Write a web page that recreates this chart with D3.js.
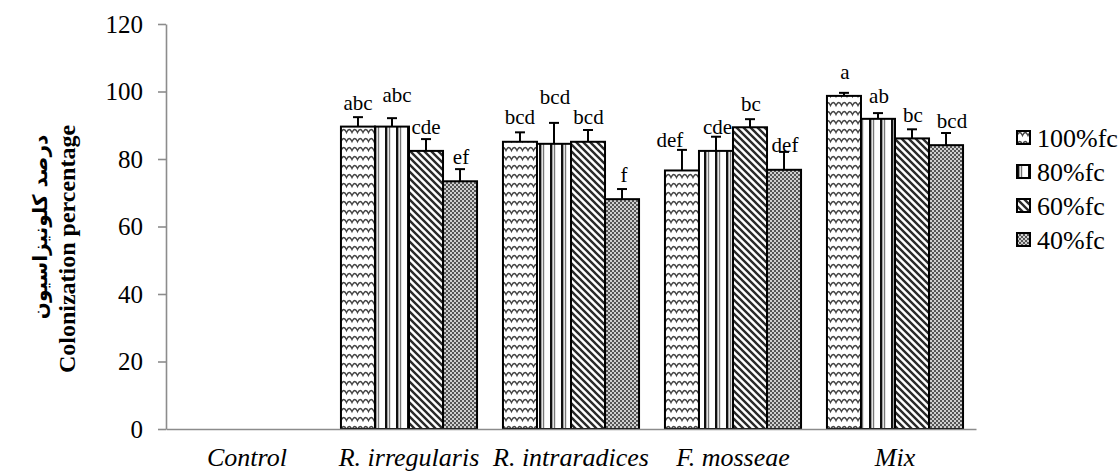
<!DOCTYPE html>
<html>
<head>
<meta charset="utf-8">
<script src="https://cdn.jsdelivr.net/npm/d3@7/dist/d3.min.js"></script>
<style>
  html, body { margin: 0; padding: 0; background: #fff; }
  svg { display: block; }
</style>
</head>
<body>
<svg id="chart" width="1120" height="472"></svg>
<script>
// ---------------- DATA ----------------
const categories = ["Control", "R. irregularis", "R. intraradices", "F. mosseae", "Mix"];
const seriesNames = ["100%fc", "80%fc", "60%fc", "40%fc"];
const values100 = [0, 89.6, 85.1, 76.6, 98.7];
const values80  = [0, 89.6, 84.5, 82.4, 91.9];
const values60  = [0, 82.4, 85.1, 89.4, 86.1];
const values40  = [0, 73.4, 68.1, 76.8, 84.1];
const errors100 = [0, 2.8, 2.8, 6.1, 0.9];
const errors80  = [0, 2.5, 6.2, 4.2, 1.7];
const errors60  = [0, 3.5, 3.5, 2.4, 2.7];
const errors40  = [0, 3.6, 3.0, 5.3, 3.6];
const letters100 = ["", "abc", "bcd", "def", "a"];
const letters80  = ["", "abc", "bcd", "cde", "ab"];
const letters60  = ["", "cde", "bcd", "bc", "bc"];
const letters40  = ["", "ef", "f", "def", "bcd"];
const yTicks = [0, 20, 40, 60, 80, 100, 120];
const yTitleFa = "درصد کلونیزاسیون";
const yTitleEn = "Colonization percentage";

// ---------------- LAYOUT / STYLE ----------------
const plot = { left: 166, right: 976, top: 24, bottom: 429 };
const labelGap = [
  [0, 7, 8, 3, 14],
  [0, 16, 19, 2.5, 10.5],
  [0, 4.7, 5.7, 8.3, 7.3],
  [0, 4.7, 7.3, 0.3, 4.7]
];
const labelDx = [
  [0, 0, 0, -12, 1],
  [0, 5, 1, 1.5, 1],
  [0, 0, 0.5, 1, 1],
  [0, 1, 2, 1, 6]
];
const patternIds = ["pWave", "pVert", "pDiag", "pCheck"];
const SERIF = '"Liberation Serif"';

const valuesBySeries = [values100, values80, values60, values40];
const errorsBySeries = [errors100, errors80, errors60, errors40];
const lettersBySeries = [letters100, letters80, letters60, letters40];

const svg = d3.select("#chart");
svg.append("rect").attr("width", 1120).attr("height", 472).attr("fill", "#fff");

// ---------------- PATTERNS ----------------
const defs = svg.append("defs");
const pw = defs.append("pattern").attr("id", "pWave").attr("patternUnits", "userSpaceOnUse")
  .attr("width", 11).attr("height", 9);
pw.append("rect").attr("width", 11).attr("height", 9).attr("fill", "#fff");
pw.append("path").attr("d", "M-5.5,6.5 Q-2.75,0.5 0,6.5 Q2.75,0.5 5.5,6.5 Q8.25,0.5 11,6.5 Q13.75,0.5 16.5,6.5")
  .attr("fill", "none").attr("stroke", "#444").attr("stroke-width", 1.4);
const pv = defs.append("pattern").attr("id", "pVert").attr("patternUnits", "userSpaceOnUse")
  .attr("width", 11).attr("height", 10);
pv.append("rect").attr("width", 11).attr("height", 10).attr("fill", "#fff");
pv.append("rect").attr("x", 0).attr("width", 2.4).attr("height", 10).attr("fill", "#111");
pv.append("rect").attr("x", 3.8).attr("width", 1.4).attr("height", 10).attr("fill", "#777");
const pd = defs.append("pattern").attr("id", "pDiag").attr("patternUnits", "userSpaceOnUse")
  .attr("width", 7).attr("height", 7);
pd.append("rect").attr("width", 7).attr("height", 7).attr("fill", "#fff");
pd.append("path").attr("d", "M-1,-1 L8,8 M-8,-1 L1,8 M6,-1 L15,8")
  .attr("stroke", "#2a2a2a").attr("stroke-width", 2.4);
const pc = defs.append("pattern").attr("id", "pCheck").attr("patternUnits", "userSpaceOnUse")
  .attr("width", 4).attr("height", 4);
pc.append("rect").attr("width", 4).attr("height", 4).attr("fill", "#cfcfcf");
pc.append("rect").attr("x", 0).attr("y", 0).attr("width", 2).attr("height", 2).attr("fill", "#555");
pc.append("rect").attr("x", 2).attr("y", 2).attr("width", 2).attr("height", 2).attr("fill", "#555");

// ---------------- SCALES ----------------
const x0 = d3.scaleBand().domain(categories).range([plot.left, plot.right])
  .paddingInner(0.16).paddingOuter(0.08);
const x1 = d3.scaleBand().domain(seriesNames).range([0, x0.bandwidth()]).padding(0);
const y = d3.scaleLinear().domain([0, 120]).range([plot.bottom, plot.top]);

// ---------------- AXES ----------------
const yAxis = svg.append("g").attr("transform", `translate(${plot.left},0)`)
  .call(d3.axisLeft(y).tickValues(yTicks).tickSize(8).tickSizeOuter(0).tickPadding(15).tickFormat(d3.format("d")));
yAxis.attr("font-family", null).attr("font-size", null);
yAxis.select(".domain").attr("stroke", "#8c8c8c").attr("stroke-width", 1.6);
yAxis.selectAll(".tick line").attr("stroke", "#8c8c8c").attr("stroke-width", 1.6);
yAxis.selectAll(".tick text").style("font-family", SERIF).style("font-size", "25px").attr("fill", "#000");

seriesNames.forEach((s, si) => {
  const g = svg.append("g");
  categories.forEach((c, ci) => {
    const v = valuesBySeries[si][ci];
    if (v <= 0) return;
    g.append("rect")
      .attr("x", x0(c) + x1(s)).attr("y", y(v))
      .attr("width", x1.bandwidth()).attr("height", y(0) - y(v))
      .attr("fill", `url(#${patternIds[si]})`)
      .attr("stroke", "#000").attr("stroke-width", 2);
  });
});

const xAxis = svg.append("g").attr("transform", `translate(0,${plot.bottom})`)
  .call(d3.axisBottom(x0).tickSize(0).tickPadding(19));
xAxis.attr("font-family", null).attr("font-size", null);
xAxis.select(".domain").attr("stroke", "#8c8c8c").attr("stroke-width", 1.6);
xAxis.selectAll(".tick text").style("font-family", SERIF).style("font-size", "26px")
  .style("font-style", "italic").attr("fill", "#000");

seriesNames.forEach((s, si) => {
  const g = svg.append("g");
  categories.forEach((c, ci) => {
    const v = valuesBySeries[si][ci];
    if (v <= 0) return;
    const e = errorsBySeries[si][ci];
    const cx = x0(c) + x1(s) + x1.bandwidth() / 2;
    g.append("line").attr("x1", cx).attr("x2", cx).attr("y1", y(v)).attr("y2", y(v + e))
      .attr("stroke", "#000").attr("stroke-width", 2);
    g.append("line").attr("x1", cx - 5).attr("x2", cx + 5).attr("y1", y(v + e)).attr("y2", y(v + e))
      .attr("stroke", "#000").attr("stroke-width", 2);
    g.append("text")
      .attr("x", cx + labelDx[si][ci]).attr("y", y(v + e) - labelGap[si][ci])
      .attr("text-anchor", "middle").style("font-family", SERIF).style("font-size", "21px")
      .attr("fill", "#000").text(lettersBySeries[si][ci]);
  });
});

const yTitleCenter = 249;
svg.append("text")
  .attr("transform", `translate(47,${yTitleCenter - 22}) rotate(-90)`)
  .attr("text-anchor", "middle").style("font-family", '"DejaVu Sans"')
  .style("font-weight", "bold").style("font-size", "20px").attr("fill", "#000")
  .text(yTitleFa);
svg.append("text")
  .attr("transform", `translate(75,${yTitleCenter}) rotate(-90)`)
  .attr("text-anchor", "middle").style("font-family", SERIF)
  .style("font-weight", "bold").style("font-size", "24px").attr("fill", "#000")
  .text(yTitleEn);

const legend = svg.append("g").attr("transform", "translate(1017,138)");
seriesNames.forEach((s, si) => {
  const row = legend.append("g").attr("transform", `translate(0,${si * 34})`);
  row.append("rect").attr("x", 0).attr("y", -7).attr("width", 13).attr("height", 13)
    .attr("fill", `url(#${patternIds[si]})`).attr("stroke", "#000").attr("stroke-width", 2);
  row.append("text").attr("x", 20).attr("y", 8.5)
    .style("font-family", SERIF).style("font-size", "26px").attr("fill", "#000").text(s);
});
</script>
</body>
</html>
